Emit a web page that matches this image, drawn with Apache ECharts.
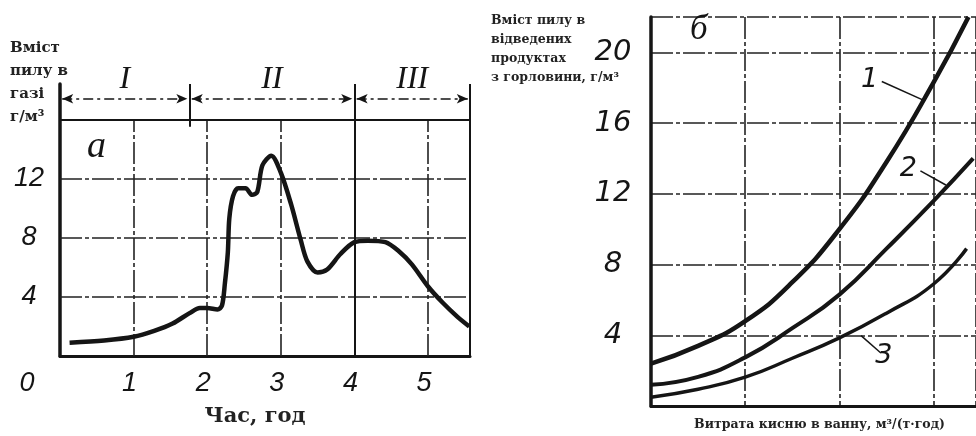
<!DOCTYPE html>
<html>
<head>
<meta charset="utf-8">
<script src="https://cdn.jsdelivr.net/npm/echarts@6/dist/echarts.min.js"></script>
<style>
  html, body { margin: 0; padding: 0; background: #fff; }
  #chart { width: 976px; height: 436px; }
</style>
</head>
<body>
<div id="chart"></div>
<script>
// panel а: dust content in gas vs melt time
const timeH = [0.13, 0.6, 1.0, 1.28, 1.53, 1.76, 1.9, 2.0, 2.14, 2.2, 2.24, 2.28, 2.3, 2.35, 2.42, 2.52, 2.61, 2.68, 2.75, 2.87, 3.0, 3.14, 3.27, 3.36, 3.5, 3.63, 3.81, 4.0, 4.18, 4.42, 4.6, 4.78, 5.0, 5.2, 5.4, 5.56];
const dustGas = [0.9, 1.05, 1.3, 1.7, 2.2, 2.9, 3.25, 3.25, 3.15, 3.4, 4.9, 7.0, 9.3, 10.8, 11.35, 11.35, 10.9, 11.1, 12.9, 13.55, 12.4, 10.25, 7.85, 6.4, 5.65, 5.85, 6.9, 7.7, 7.8, 7.7, 7.1, 6.2, 4.7, 3.6, 2.65, 2.0];
const timeTicks = [0, 1, 2, 3, 4, 5];
const dustTicksA = [4, 8, 12];
const phaseEdges = [0, 1.76, 4, 5.57];
const phaseNames = ['I', 'II', 'III'];

// panel б: dust in off-gas vs oxygen flow, curves 1..3
const flow1 = [0, 0.5, 1, 1.5, 2, 2.5, 3, 3.37];
const dust1 = [2.4, 3.4, 4.8, 7.0, 10.0, 13.8, 18.3, 22.0];
const flow2 = [0, 0.5, 1, 1.5, 2, 2.5, 3, 3.42];
const dust2 = [1.2, 1.65, 2.75, 4.4, 6.3, 8.9, 11.6, 14.0];
const flow3 = [0, 0.5, 1, 1.5, 2, 2.5, 3, 3.35];
const dust3 = [0.5, 0.95, 1.63, 2.7, 3.85, 5.25, 6.9, 8.9];
const dustTicksB = [4, 8, 12, 16, 20];
const curveNames = ['1', '2', '3'];

const ink = '#151515';
const xMaxA = 5.57, yMaxA = 18.4, arrowY = 17.4, topA = 16;
const digitA = { fontFamily: 'Liberation Sans', fontStyle: 'italic', fontSize: 27, color: ink };
const digitB = { fontFamily: 'DejaVu Sans', fontStyle: 'italic', fontSize: 29, color: ink };
const gridDash = { color: '#222', width: 1.6, type: [22, 3, 4, 3] };

const zip = (xs, ys) => xs.map((x, i) => [x, ys[i]]);
const seg = (a, b, extra) => [Object.assign({ coord: a }, extra || {}), { coord: b }];

const chart = echarts.init(document.getElementById('chart'));

chart.setOption({
  animation: false,
  backgroundColor: '#fff',
  title: [
    { text: 'Вміст\nпилу в\nгазі\nг/м³', left: 10, top: 37, padding: 0,
      textStyle: { fontFamily: 'DejaVu Serif', fontWeight: 'bold', fontSize: 15, lineHeight: 23, color: '#222' } },
    { text: 'а', left: 87, top: 128, padding: 0,
      textStyle: { fontFamily: 'Liberation Serif', fontStyle: 'italic', fontWeight: 'normal', fontSize: 38, color: ink } },
    { text: 'Вміст пилу в\nвідведених\nпродуктах\nз горловини, г/м³', left: 491, top: 11, padding: 0,
      textStyle: { fontFamily: 'DejaVu Serif', fontWeight: 'bold', fontSize: 12.5, lineHeight: 19, color: '#222' } },
    { text: 'б', left: 690, top: 12, padding: 0,
      textStyle: { fontFamily: 'Liberation Serif', fontStyle: 'italic', fontWeight: 'normal', fontSize: 35, color: ink } }
  ],
  grid: [
    { left: 60, top: 84, width: 410, height: 272 },
    { left: 651, top: 17, width: 327, height: 392 }
  ],
  xAxis: [
    {
      gridIndex: 0, type: 'value', min: 0, max: xMaxA, interval: 1,
      axisLine: { show: true, lineStyle: { color: ink, width: 3 } },
      axisTick: { show: false },
      splitLine: { show: false },
      axisLabel: {
        margin: 14,
        formatter: v => timeTicks.includes(v) ? (v === 0 ? '{z|0}' : '{n|' + v + '}') : '',
        rich: {
          z: Object.assign({ padding: [0, 66, 0, 0] }, digitA),
          n: Object.assign({ padding: [0, 8, 0, 0] }, digitA)
        }
      },
      name: 'Час, год', nameLocation: 'middle', nameGap: 50,
      nameTextStyle: { fontFamily: 'DejaVu Serif', fontWeight: 'bold', fontSize: 21, color: '#222', padding: [0, 20, 0, 0] }
    },
    {
      gridIndex: 1, type: 'value', min: 0, max: 3.45, interval: 1,
      axisLine: { show: true, lineStyle: { color: ink, width: 3 } },
      axisTick: { show: false },
      axisLabel: { show: false },
      splitLine: { show: true, lineStyle: gridDash },
      name: 'Витрата кисню в ванну, м³/(т·год)', nameLocation: 'middle', nameGap: 12,
      nameTextStyle: { fontFamily: 'DejaVu Serif', fontWeight: 'bold', fontSize: 12.5, color: '#222', padding: [0, 0, 0, 12] }
    }
  ],
  yAxis: [
    {
      gridIndex: 0, type: 'value', min: 0, max: yMaxA, interval: 4,
      axisLine: { show: true, lineStyle: { color: ink, width: 3.5 } },
      axisTick: { show: false },
      splitLine: { show: false },
      axisLabel: Object.assign({ align: 'center', margin: 31,
        formatter: v => dustTicksA.includes(v) ? String(v) : '' }, digitA)
    },
    {
      gridIndex: 1, type: 'value', min: 0, max: 22, interval: 4,
      axisLine: { show: true, lineStyle: { color: ink, width: 3.5 } },
      axisTick: { show: false },
      splitLine: { show: true, lineStyle: gridDash },
      axisLabel: Object.assign({ align: 'center', margin: 38,
        formatter: v => dustTicksB.includes(v) ? String(v) : '' }, digitB)
    }
  ],
  series: [
    // panel а: grid lines
    {
      type: 'line', xAxisIndex: 0, yAxisIndex: 0, data: [], z: 1,
      markLine: {
        silent: true, symbol: 'none', label: { show: false }, lineStyle: gridDash,
        data: dustTicksA.map(y => seg([0, y], [xMaxA, y]))
          .concat(timeTicks.filter(x => x > 0 && x !== 4).map(x => seg([x, 0], [x, topA])))
      }
    },
    // panel а: frame and phase dividers
    {
      type: 'line', xAxisIndex: 0, yAxisIndex: 0, data: [], z: 2,
      markLine: {
        silent: true, symbol: 'none', label: { show: false },
        lineStyle: { color: ink, width: 2, type: 'solid' },
        data: [
          seg([0, topA], [xMaxA, topA]),
          seg([phaseEdges[1], 15.5], [phaseEdges[1], yMaxA]),
          seg([phaseEdges[2], 0], [phaseEdges[2], yMaxA]),
          seg([phaseEdges[3], 0], [phaseEdges[3], yMaxA])
        ]
      }
    },
    // panel а: period arrows I, II, III
    {
      type: 'line', xAxisIndex: 0, yAxisIndex: 0, data: [], z: 2,
      markLine: {
        silent: true, symbol: ['arrow', 'arrow'], symbolSize: [7, 11],
        lineStyle: { color: ink, width: 1.5, type: [10, 4, 3, 4] },
        label: { show: true, position: 'insideMiddleTop', distance: 3, formatter: '{b}',
          fontFamily: 'Liberation Serif', fontStyle: 'italic', fontSize: 32, color: ink },
        data: phaseNames.map((n, i) => seg([phaseEdges[i] + 0.03, arrowY], [phaseEdges[i + 1] - 0.03, arrowY], { name: n }))
      }
    },
    {
      name: 'а', type: 'line', xAxisIndex: 0, yAxisIndex: 0, z: 5,
      data: zip(timeH, dustGas), smooth: 0.3, showSymbol: false,
      lineStyle: { color: ink, width: 4.5 }
    },
    // panel б curves
    {
      name: '1', type: 'line', xAxisIndex: 1, yAxisIndex: 1, z: 5,
      data: zip(flow1, dust1), smooth: 0.5, showSymbol: false,
      lineStyle: { color: ink, width: 4.5 }
    },
    {
      name: '2', type: 'line', xAxisIndex: 1, yAxisIndex: 1, z: 5,
      data: zip(flow2, dust2), smooth: 0.5, showSymbol: false,
      lineStyle: { color: ink, width: 4 }
    },
    {
      name: '3', type: 'line', xAxisIndex: 1, yAxisIndex: 1, z: 5,
      data: zip(flow3, dust3), smooth: 0.5, showSymbol: false,
      lineStyle: { color: ink, width: 3.5 }
    },
    // panel б: leader lines to curve numbers
    {
      type: 'line', xAxisIndex: 1, yAxisIndex: 1, data: [], z: 4,
      markLine: {
        silent: true, symbol: 'none',
        lineStyle: { color: ink, width: 1.5, type: 'solid' },
        label: Object.assign({ show: true, formatter: '{b}', distance: 4 }, digitB, { fontSize: 27 }),
        data: [
          seg([2.45, 18.35], [2.89, 17.3], { name: curveNames[0], label: { position: 'start' } }),
          seg([2.86, 13.3], [3.13, 12.5], { name: curveNames[1], label: { position: 'start' } }),
          seg([2.23, 3.98], [2.44, 3.0], { name: curveNames[2], label: { position: 'end' } })
        ]
      }
    }
  ]
});
</script>
</body>
</html>
